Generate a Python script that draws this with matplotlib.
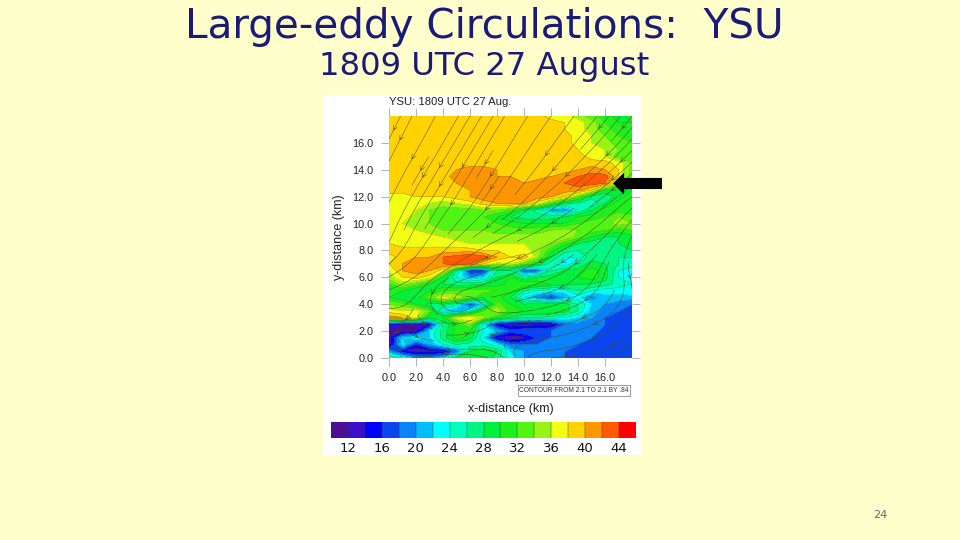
import numpy as np
import matplotlib
matplotlib.use("Agg")
import matplotlib.pyplot as plt
from matplotlib.colors import ListedColormap, BoundaryNorm

x_km = np.arange(0, 19)
y_km = np.arange(18, -0.5, -0.5)

# values, top row is y=18 km
speed = np.array([
    [39,39,39,39,39,39,39,39,39,39,39,39,37,37,35,33,31,29,31],
    [39,39,39,39,39,39,39,39,39,39,39,39,39,38,37,35,32,30,30],
    [39,39,39,39,39,39,39,39,39,39,39,39,39,38,37,35,33,31,31],
    [39,39,39,39,39,39,39,39,39,39,39,39,39,39,37,36,34,32,31],
    [39,39,39,39,39,39,39,39,39,39,39,39,39,39,37,36,35,33,32],
    [39,39,39,39,39,39,39,39,39,39,39,39,39,39,38,37,36,34,32],
    [39,39,39,39,39,39,39,39,39,39,39,39,39,39,39,37,36,33,32],
    [39,39,39,39,39,39,39,39,39,39,39,39,39,39,39,39,39,37,34],
    [39,39,39,39,39,40,41,41,40,39,39,39,39,39,40,41,40,38,33],
    [39,39,39,39,39,41,41,41,40,40,39,39,40,41,42,43,43,38,33],
    [39,39,39,39,39,40,41,41,41,41,40,41,41,42,43,43,42,34,31],
    [39,39,39,39,39,39,40,41,41,41,41,41,41,41,41,38,30,30,30],
    [37,37,38,38,38,39,40,41,41,41,41,41,40,38,33,27,26,29,31],
    [37,37,37,36,35,36,37,39,40,40,40,37,32,27,26,24,28,31,31],
    [37,37,36,34,33,33,33,34,34,32,28,25,20,19,24,28,31,31,30],
    [37,37,35,34,33,33,33,32,30,28,27,27,27,28,30,31,32,34,33],
    [37,36,35,34,33,33,33,33,32,31,30,30,30,30,32,33,33,35,34],
    [37,37,36,35,34,34,34,34,33,33,33,33,34,35,34,33,32,31,32],
    [38,37,37,37,36,35,35,35,35,35,35,35,35,36,33,30,28,28,29],
    [38,37,37,37,37,37,36,36,36,36,36,36,34,31,28,27,27,28,29],
    [39,39,39,39,39,39,39,38,38,37,37,35,31,27,26,27,27,27,28],
    [37,39,40,40,42,43,44,43,40,38,39,35,28,24,24,27,28,26,26],
    [38,40,41,41,42,43,42,38,35,36,33,29,25,22,26,29,28,26,25],
    [36,40,41,40,37,26,15,16,26,26,17,18,26,28,29,31,29,24,23],
    [35,38,39,37,30,24,20,22,28,30,26,28,29,29,30,31,29,24,22],
    [32,35,33,30,28,27,27,28,29,31,32,31,30,29,28,28,27,25,24],
    [31,30,28,30,32,32,33,33,32,31,26,24,23,23,26,24,23,23,24],
    [30,28,29,33,37,36,33,30,31,28,22,19,16,20,23,19,21,21,21],
    [34,33,30,27,28,25,16,22,33,30,28,30,29,29,26,22,20,19,18],
    [37,36,37,33,22,20,24,32,36,31,30,30,30,29,26,21,19,18,17],
    [41,40,37,28,30,37,38,35,30,28,26,26,25,24,22,20,18,17,17],
    [14,12,12,14,26,30,34,22,14,12,12,13,13,18,19,19,18,17,17],
    [12,12,12,22,27,31,30,24,21,17,18,18,18,20,20,19,17,17,17],
    [12,22,24,22,27,31,29,22,13,12,13,16,18,19,19,18,17,17,17],
    [12,23,15,20,24,26,25,25,23,18,18,18,19,19,18,17,17,17,17],
    [20,14,12,13,13,18,28,30,28,22,20,19,19,18,18,17,17,17,17],
    [26,24,20,19,22,28,30,30,27,23,20,19,19,18,17,17,17,17,17],
])

# wind components on a coarse grid, bottom row is y=0 km
wind_x = np.arange(0, 19, 3)
wind_y = np.arange(0, 19, 3)
wind_u = np.array([
    [ 0.8, 1.0, 0.6, 0.2,-0.4,-0.8,-0.8],
    [-0.9, 0.6, 0.9,-0.8,-1.0,-0.9,-0.6],
    [-0.9,-0.8,-1.0,-0.9,-1.0,-0.5, 0.3],
    [-0.4,-0.6,-0.9,-1.0,-0.9,-0.8,-0.4],
    [-0.5,-0.6,-0.6,-0.7,-0.8,-0.8,-0.8],
    [-0.5,-0.6,-0.6,-0.6,-0.7,-0.8,-0.7],
    [-0.5,-0.5,-0.6,-0.6,-0.7,-0.7,-0.6],
])
wind_v = np.array([
    [-0.2, 0.2,-0.1,-0.2, 0.0,-0.3,-0.5],
    [ 0.1,-0.6, 0.4, 0.0,-0.2,-0.4,-0.8],
    [-0.4,-0.6,-0.3,-0.4,-0.4,-0.8,-0.9],
    [-1.0,-1.0,-0.7,-0.4,-0.5,-0.6,-0.8],
    [-1.0,-1.0,-1.0,-0.9,-0.6,-0.6,-0.6],
    [-1.0,-1.0,-1.0,-1.0,-1.0,-0.8,-0.7],
    [-1.0,-1.0,-1.0,-1.0,-1.0,-0.9,-0.8],
])

levels = np.arange(10, 48, 2)
colors = ["#4B0F96", "#3A10C8", "#0000FF", "#0A46F0", "#0A82FA", "#00BEFF",
          "#00FFFF", "#00FFBE", "#00F582", "#00F03C", "#1EF01E", "#50F514",
          "#96F514", "#F0FF14", "#FFD200", "#FF9600", "#FF5A00", "#FF0000"]
ticks = [0, 2, 4, 6, 8, 10, 12, 14, 16]
bar_ticks = [12, 16, 20, 24, 28, 32, 36, 40, 44]

W, H = 960, 540
sans = "Liberation Sans"

fig = plt.figure(figsize=(W / 100, H / 100), dpi=100, facecolor="#FFFFCC")

# page layer in pixel coordinates
page = fig.add_axes([0, 0, 1, 1])
page.set_xlim(0, W)
page.set_ylim(H, 0)
page.axis("off")
page.add_patch(plt.Rectangle((323, 95), 318, 360, color="white", lw=0))
page.text(484, 27, "Large-eddy Circulations:  YSU", ha="center", va="center",
          fontsize=29.2, color="#1A1A78")
page.text(484, 66, "1809 UTC 27 August", ha="center", va="center",
          fontsize=23.2, color="#1A1A78")
page.text(880, 515, "24", ha="center", va="center", fontsize=8, color="#666666")
page.text(389, 102, "YSU: 1809 UTC 27 Aug.", ha="left", va="center",
          fontsize=8.1, family=sans, color="#222222")
page.text(574, 390.5, "CONTOUR FROM 2.1 TO 2.1 BY .84", ha="center", va="center",
          fontsize=4.8, family=sans, color="#333333",
          bbox=dict(boxstyle="square,pad=0.25", fc="white", ec="#777777", lw=0.5))
page.text(511, 409, "x-distance (km)", ha="center", va="center",
          fontsize=9, family=sans, color="#222222")
page.text(339, 237, "y-distance (km)", ha="center", va="center", rotation=90,
          fontsize=9, family=sans, color="#222222")

# main panel
ax = fig.add_axes([389 / W, 1 - 358 / H, 243 / W, 242 / H])
cmap = ListedColormap(colors)
norm = BoundaryNorm(levels, cmap.N)
filled = ax.contourf(x_km, y_km, speed, levels=levels, cmap=cmap, norm=norm)
ax.contour(x_km, y_km, speed, levels=levels, colors="#1F4020", linewidths=0.25, alpha=0.5)
ax.streamplot(wind_x, wind_y, wind_u, wind_v, density=0.75, color="#4A4A20",
              linewidth=0.35, arrowsize=0.8, arrowstyle="->")
ax.set_xlim(0, 18)
ax.set_ylim(0, 18)
ax.set_xticks(ticks)
ax.set_yticks(ticks)
ax.set_xticklabels([f"{t:.1f}" for t in ticks], family=sans, fontsize=7.8, color="#222222")
ax.set_yticklabels([f"{t:.1f}" for t in ticks], family=sans, fontsize=7.8, color="#222222")
ax.tick_params(axis="both", top=True, right=True, length=6, width=0.4, color="#777777", pad=5)
for side in ax.spines.values():
    side.set_visible(False)

# colour bar
cax = fig.add_axes([331 / W, 1 - 438 / H, 305 / W, 16 / H])
cbar = fig.colorbar(filled, cax=cax, orientation="horizontal", ticks=bar_ticks, drawedges=True)
cbar.dividers.set_linewidth(0.3)
cbar.dividers.set_color("#333333")
cbar.outline.set_visible(False)
cbar.ax.minorticks_off()
cbar.ax.tick_params(which="both", length=0, pad=3)
cbar.ax.set_xticklabels([str(t) for t in bar_ticks], family="DejaVu Sans", fontsize=9.5, color="#111111")

# arrow pointing at the jet, on its own layer above the panel
top = fig.add_axes([0, 0, 1, 1])
top.set_xlim(0, W)
top.set_ylim(H, 0)
top.axis("off")
top.patch.set_alpha(0)
top.annotate("", xy=(613, 183.5), xytext=(662, 183.5),
             arrowprops=dict(facecolor="black", edgecolor="black", width=8,
                             headwidth=16, headlength=8, shrink=0, lw=0))

fig.savefig("out.png", dpi=100, facecolor=fig.get_facecolor())
